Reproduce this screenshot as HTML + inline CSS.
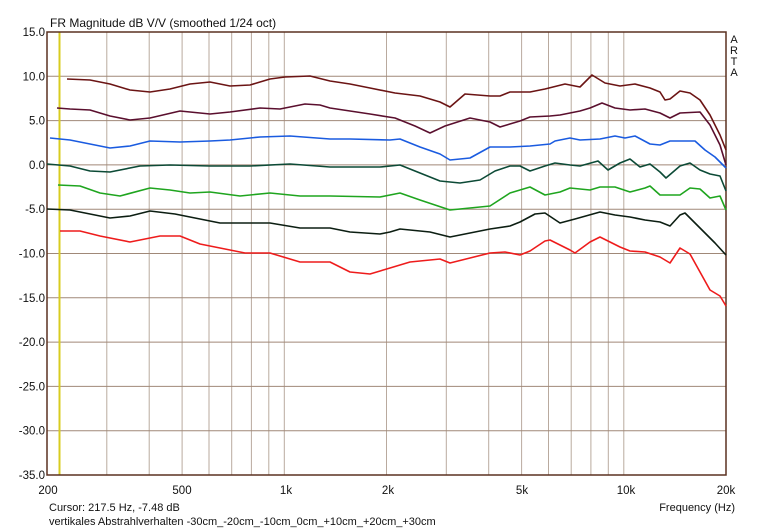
<!DOCTYPE html>
<html><head><meta charset="utf-8"><style>
body{margin:0;background:#fff}
svg{display:block;font-family:"Liberation Sans",sans-serif}
</style></head><body>
<svg width="774" height="530" xmlns="http://www.w3.org/2000/svg">
<rect width="774" height="530" fill="#fff"/>
<g stroke="#b9aa9e" stroke-width="1">
<line x1="106.8" y1="32" x2="106.8" y2="475"/><line x1="149.2" y1="32" x2="149.2" y2="475"/>
<line x1="182.1" y1="32" x2="182.1" y2="475"/><line x1="209" y1="32" x2="209" y2="475"/>
<line x1="231.7" y1="32" x2="231.7" y2="475"/><line x1="251.4" y1="32" x2="251.4" y2="475"/>
<line x1="268.8" y1="32" x2="268.8" y2="475"/><line x1="284.3" y1="32" x2="284.3" y2="475"/>
<line x1="386.5" y1="32" x2="386.5" y2="475"/><line x1="446.3" y1="32" x2="446.3" y2="475"/>
<line x1="488.7" y1="32" x2="488.7" y2="475"/><line x1="521.6" y1="32" x2="521.6" y2="475"/>
<line x1="548.5" y1="32" x2="548.5" y2="475"/><line x1="571.2" y1="32" x2="571.2" y2="475"/>
<line x1="590.9" y1="32" x2="590.9" y2="475"/><line x1="608.3" y1="32" x2="608.3" y2="475"/>
<line x1="623.8" y1="32" x2="623.8" y2="475"/>
</g>
<g stroke="#a08878" stroke-width="1">
<line x1="47" y1="76.3" x2="726" y2="76.3"/><line x1="47" y1="120.6" x2="726" y2="120.6"/>
<line x1="47" y1="164.9" x2="726" y2="164.9"/><line x1="47" y1="209.2" x2="726" y2="209.2"/>
<line x1="47" y1="253.5" x2="726" y2="253.5"/><line x1="47" y1="297.8" x2="726" y2="297.8"/>
<line x1="47" y1="342.1" x2="726" y2="342.1"/><line x1="47" y1="386.4" x2="726" y2="386.4"/>
<line x1="47" y1="430.7" x2="726" y2="430.7"/>
</g>
<line x1="59.5" y1="32" x2="59.5" y2="475" stroke="#d8cc20" stroke-width="2"/>
<rect x="47" y="32" width="679" height="443" fill="none" stroke="#5a3020" stroke-width="1.5"/>
<g fill="none" stroke-width="1.6" stroke-linejoin="round">
<polyline stroke="#6b1414" points="67,79 90,80 110,84 130,90 150,92 170,89 190,84 210,82 230,86 250,85 270,79 285,77 310,76 330,81 350,84 370,88 395,93 420,96 440,102 450,107 465,94 490,96 500,96 510,92 530,92 545,89 565,84 580,87 592,75 605,83 620,86 635,84 650,88 660,92 665,100 670,99 680,91 690,93 700,100 710,115 720,135 726,150"/>
<polyline stroke="#5a0f2e" points="57,108 70,109 90,110 110,116 130,120 150,118 180,111 210,114 230,112 260,108 280,109 305,104 320,105 330,108 350,111 370,114 395,118 415,126 430,133 445,126 470,118 490,122 500,127 520,121 530,117 550,116 560,115 570,113 580,111 590,108 602,103 615,108 630,110 645,109 660,113 670,118 680,113 700,112 710,125 720,145 726,165"/>
<polyline stroke="#1a5be0" points="50,138 70,140 90,144 110,148 130,146 150,141 180,142 210,141 230,140 260,137 290,136 330,139 350,139 390,140 400,139 420,147 440,154 450,160 470,158 490,147 510,147 530,146 550,144 555,141 570,138 580,140 600,139 615,136 625,138 635,136 650,144 660,145 670,141 695,141 705,150 715,157 726,168"/>
<polyline stroke="#0c4a36" points="47,164 70,166 90,171 110,172 140,166 170,165 210,166 250,166 290,164 330,167 380,167 400,165 420,173 440,181 460,183 480,180 495,171 510,166 520,166 530,171 545,166 555,163 570,165 580,166 598,161 608,170 620,163 630,159 640,167 650,164 660,172 666,178 680,166 690,163 700,170 710,174 720,176 726,191"/>
<polyline stroke="#1fa51f" points="58,185 80,186 100,193 120,196 150,188 170,190 190,193 210,192 240,196 270,193 300,196 330,196 380,197 400,193 420,200 450,210 470,208 490,206 510,193 530,187 545,195 560,192 570,188 590,190 600,187 615,187 630,192 645,188 650,186 660,195 680,195 690,188 700,189 710,198 720,196 726,210"/>
<polyline stroke="#0c1e12" points="47,209 70,210 90,214 110,218 130,216 150,211 175,214 200,219 220,223 240,223 270,223 300,228 330,228 350,232 380,234 390,232 400,229 430,232 450,237 470,233 490,229 510,226 520,222 535,214 545,213 560,223 575,219 600,212 615,215 630,217 645,220 660,222 670,226 680,215 685,213 700,228 715,243 726,255"/>
<polyline stroke="#ee1c1c" points="60,231 80,231 100,236 130,242 160,236 180,236 200,244 220,248 245,253 270,253 300,262 330,262 350,272 370,274 390,268 410,262 440,259 450,263 470,258 490,253 505,252 520,255 530,251 545,241 550,240 570,250 575,253 590,242 600,237 620,247 630,251 645,252 660,257 670,263 680,248 690,254 700,272 710,290 720,296 726,306"/>
</g>
<g font-size="11.5" fill="#111" text-anchor="end">
<text x="45" y="36">15.0</text><text x="45" y="80.3">10.0</text><text x="45" y="124.6">5.0</text>
<text x="45" y="168.9">0.0</text><text x="45" y="213.2">-5.0</text><text x="45" y="257.5">-10.0</text>
<text x="45" y="301.8">-15.0</text><text x="45" y="346.1">-20.0</text><text x="45" y="390.4">-25.0</text>
<text x="45" y="434.7">-30.0</text><text x="45" y="479">-35.0</text>
</g>
<g font-size="11.5" fill="#111" text-anchor="middle">
<text x="48" y="494">200</text><text x="182" y="494">500</text><text x="286" y="494">1k</text>
<text x="388" y="494">2k</text><text x="522" y="494">5k</text><text x="626" y="494">10k</text><text x="726" y="494">20k</text>
</g>
<text x="50" y="27" font-size="12" fill="#111">FR Magnitude dB V/V (smoothed 1/24 oct)</text>
<g font-size="11" fill="#111" text-anchor="middle">
<text x="734" y="43">A</text><text x="734" y="54">R</text><text x="734" y="65">T</text><text x="734" y="76">A</text>
</g>
<text x="49" y="511" font-size="11" fill="#111">Cursor: 217.5 Hz, -7.48 dB</text>
<text x="735" y="511" font-size="11" fill="#111" text-anchor="end">Frequency (Hz)</text>
<text x="49" y="525" font-size="11" fill="#111">vertikales Abstrahlverhalten -30cm_-20cm_-10cm_0cm_+10cm_+20cm_+30cm</text>
</svg>
</body></html>
